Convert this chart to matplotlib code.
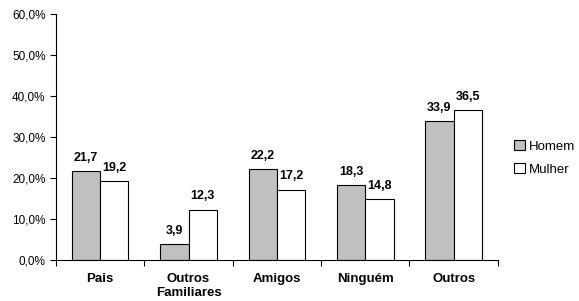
import numpy as np
import matplotlib.pyplot as plt
from matplotlib.ticker import FuncFormatter

plt.rcParams["font.family"] = ["Liberation Sans", "DejaVu Sans"]

categories = ["Pais", "Outros\nFamiliares", "Amigos", "Ninguém", "Outros"]
homem = [21.7, 3.9, 22.2, 18.3, 33.9]
mulher = [19.2, 12.3, 17.2, 14.8, 36.5]

fig = plt.figure(figsize=(5.79, 3.01), dpi=100)
ax = fig.add_axes([0.0967, 0.136, 0.763, 0.817])

x = np.arange(len(categories))
w = 0.32
b1 = ax.bar(x - w / 2, homem, w, color="#c0c0c0", edgecolor="black", linewidth=0.8, label="Homem")
b2 = ax.bar(x + w / 2, mulher, w, color="white", edgecolor="black", linewidth=0.8, label="Mulher")

for bars, vals in [(b1, homem), (b2, mulher)]:
    for bar, v in zip(bars, vals):
        ax.text(bar.get_x() + bar.get_width() / 2, v + 1.8, f"{v:.1f}".replace(".", ","),
                ha="center", va="bottom", fontsize=9, fontweight="bold")

ax.set_xlim(-0.5, len(categories) - 0.5)
ax.set_ylim(0, 60)
ax.set_yticks(np.arange(0, 61, 10))
ax.yaxis.set_major_formatter(FuncFormatter(lambda v, p: f"{v:.1f}%".replace(".", ",")))
ax.tick_params(axis="y", labelsize=8.5, length=4, width=0.8)

ax.set_xticks(x)
ax.set_xticklabels(categories, fontsize=9.5, fontweight="bold", linespacing=1.3)
ax.tick_params(axis="x", which="major", length=0, pad=9)
ax.set_xticks(np.arange(-0.5, len(categories), 1), minor=True)
ax.tick_params(axis="x", which="minor", length=4, width=0.8)

for s in ["top", "right"]:
    ax.spines[s].set_visible(False)
for s in ["left", "bottom"]:
    ax.spines[s].set_linewidth(0.8)

ax.legend(loc="center left", bbox_to_anchor=(1.01, 0.415), frameon=False, fontsize=9.5,
          handlelength=0.8, handleheight=0.8, handletextpad=0.3, labelspacing=0.8)

fig.savefig("out.png", dpi=100)
